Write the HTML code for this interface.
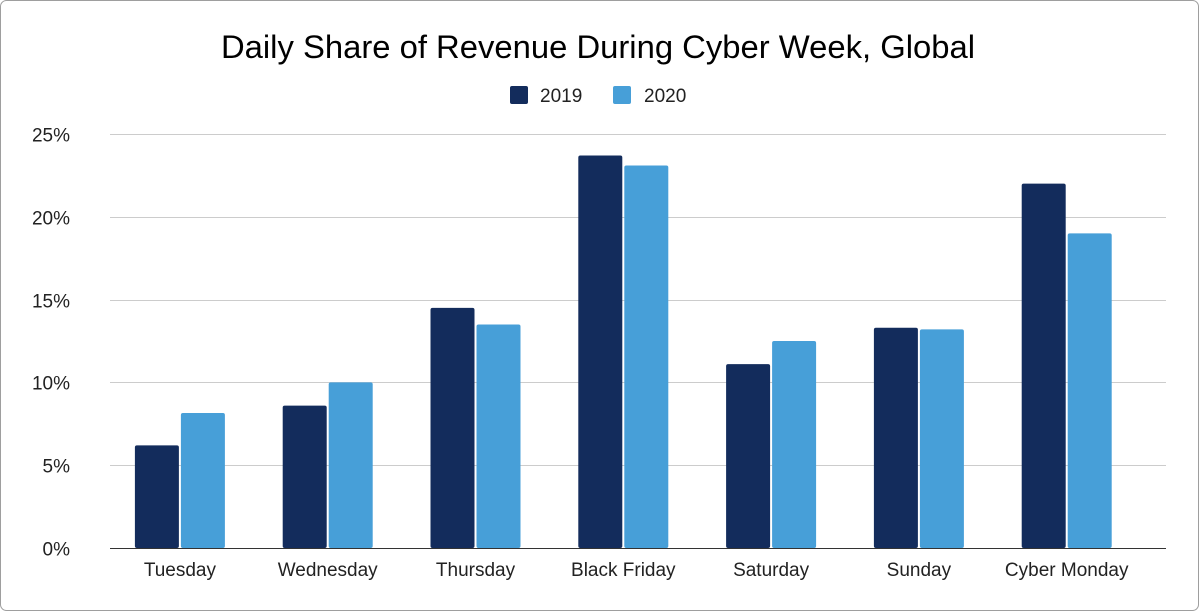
<!DOCTYPE html>
<html><head><meta charset="utf-8">
<style>
html,body{margin:0;padding:0;background:#fff;}
body{width:1199px;height:611px;overflow:hidden;font-family:"Liberation Sans",Arial,sans-serif;}
svg{display:block;}
</style></head>
<body>
<svg id="chart" width="1199" height="611" xmlns="http://www.w3.org/2000/svg">
<rect x="0.5" y="0.5" width="1198" height="610" rx="6" fill="#fff" stroke="#9e9e9e"/>
<text x="598" y="58" text-anchor="middle" font-size="32.8" fill="#000">Daily Share of Revenue During Cyber Week, Global</text>
<g>
<rect x="510" y="86" width="18" height="18" rx="2" fill="#132c5c"/>
<text x="540" y="102" font-size="19" fill="#222">2019</text>
<rect x="613" y="86" width="18" height="18" rx="2" fill="#479fd8"/>
<text x="644" y="102" font-size="19" fill="#222">2020</text>
</g>
<g id="grid"></g>
<g id="bars"></g>
<g id="xlabels"></g>
</svg>
<script>
const categories = ["Tuesday","Wednesday","Thursday","Black Friday","Saturday","Sunday","Cyber Monday"];
const s2019 = [6.2, 8.6, 14.5, 23.7, 11.1, 13.3, 22.0];
const s2020 = [8.15, 10.0, 13.5, 23.1, 12.5, 13.2, 19.0];
const yTicks = [0,5,10,15,20,25];
const yTickLabels = ["0%","5%","10%","15%","20%","25%"];

const NS="http://www.w3.org/2000/svg";
const gridL=110, gridR=1166, y0=548, y25=134;
const bandL=106, band=147.8;
function yScale(v){return y0-(v/25)*(y0-y25);}
function xCenter(i){return bandL+band*(i+0.5);}
function mk(tag,attrs){const e=document.createElementNS(NS,tag);for(const k in attrs)e.setAttribute(k,attrs[k]);return e;}

const grid=document.getElementById('grid');
yTicks.forEach((t,i)=>{
  const y=Math.round(yScale(t))+0.5;
  const ln=mk('line',{x1:gridL,x2:gridR,y1:y,y2:y,stroke:t===0?'#333':'#cccccc','stroke-width':1});
  
  
  grid.appendChild(ln);
  const tx=mk('text',{x:70,y:y+7,'text-anchor':'end','font-size':19,fill:'#222'});
  tx.textContent=yTickLabels[i];
  
  
  grid.appendChild(tx);
});

const bars=document.getElementById('bars');
const xl=document.getElementById('xlabels');
const bw=44, gap=2;
categories.forEach((c,i)=>{
  const cx=xCenter(i);
  [[s2019,'#132c5c',cx-gap/2-bw,'bar-2019'],[s2020,'#479fd8',cx+gap/2,'bar-2020']].forEach(([s,col,x,nm])=>{
    const top=yScale(s[i]);
    const r=mk('rect',{x:x,y:top,width:bw,height:y0-top,fill:col,rx:2});
    
    
    bars.appendChild(r);
  });
  const t=mk('text',{x:cx,y:576,'text-anchor':'middle','font-size':19,fill:'#222'});
  t.textContent=c;
  
  
  xl.appendChild(t);
});
</script>
</body></html>
